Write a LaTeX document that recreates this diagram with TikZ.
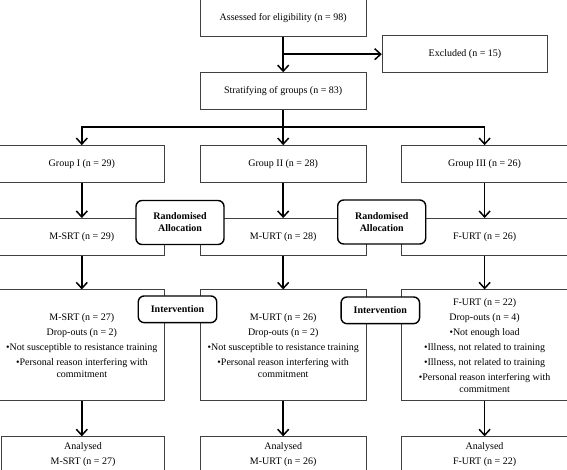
\documentclass[tikz,border=0pt]{standalone}
\usepackage{fontspec}
\setmainfont{Liberation Serif}
\usepackage{tikz}
\usetikzlibrary{positioning}
\usetikzlibrary{arrows.meta}

\begin{document}
\begin{tikzpicture}
[
x=1pt, y=-1pt,
font=\fontsize{10}{11.5}\selectfont,
box-a/.style={rectangle,draw=black!75,line width=0.9pt,minimum width=165.5pt,minimum height=37pt,align=center,inner sep=2pt},
box-b/.style={box-a,minimum height=111pt},
tag-a/.style={rectangle,rounded corners=6pt,draw,line width=1.4pt,fill=white,align=center,inner sep=2pt,font=\fontsize{10}{12}\selectfont\bfseries},
link-a/.style={->,line width=1.5pt,>={Straight Barb[length=6pt,width=11pt]}},
]
\useasboundingbox (0,0) rectangle (567,470);
\node (assess) [box-a] at (283.2,18.3)               {Assessed for eligibility (n = 98)};
\node (excl)   [box-a] at (465,54.2)                 {Excluded (n = 15)};
\node (strat)  [box-a, below = 35pt of assess]       {Stratifying of groups (n = 83)};
\node (grp2)   [box-a, below = 35pt of strat]        {Group II (n = 28)};
\node (grp1)   [box-a, left  = 35pt of grp2]         {Group I (n = 29)};
\node (grp3)   [box-a, right = 35pt of grp2]         {Group III (n = 26)};
\node (m2)     [box-a, below = 35pt of grp2]         {M-URT (n = 28)};
\node (m1)     [box-a, left  = 35pt of m2]           {M-SRT (n = 29)};
\node (m3)     [box-a, right = 35pt of m2]           {F-URT (n = 26)};
\node (out2)   [box-b, below = 33.5pt of m2]         {M-URT (n = 26)\\[3.5pt]Drop-outs (n = 2)\\[3.5pt]•Not susceptible to resistance training\\[3.5pt]•Personal reason interfering with\\commitment};
\node (out1)   [box-b, left  = 35pt of out2]         {M-SRT (n = 27)\\[3.5pt]Drop-outs (n = 2)\\[3.5pt]•Not susceptible to resistance training\\[3.5pt]•Personal reason interfering with\\commitment};
\node (out3)   [box-b, right = 35pt of out2]         {F-URT (n = 22)\\[3.5pt]Drop-outs (n = 4)\\[3.5pt]•Not enough load\\[3.5pt]•Illness, not related to training\\[3.5pt]•Illness, not related to training\\[3.5pt]•Personal reason interfering with\\commitment};
\node (ana2)   [box-a, below = 35pt of out2, minimum height=36pt] {Analysed\\[3pt]M-URT (n = 26)};
\node (ana1)   [box-a, left  = 35pt of ana2, minimum height=36pt, minimum width=163pt] {Analysed\\[3pt]M-SRT (n = 27)};
\node (ana3)   [box-a, right = 35pt of ana2, minimum height=36pt] {Analysed\\[3pt]F-URT (n = 22)};
\node (rand1)  [tag-a, minimum width=88pt, minimum height=44pt]   at (180,222.5) {Randomised\\Allocation};
\node (rand2)  [tag-a, minimum width=88pt, minimum height=44pt]   at (381.7,222) {Randomised\\Allocation};
\node (int1)   [tag-a, minimum width=78.5pt, minimum height=26.7pt] at (177.5,309.3) {Intervention};
\node (int2)   [tag-a, minimum width=78.5pt, minimum height=26.7pt] at (380.3,310.3) {Intervention};
\coordinate (split) at (assess.south |- excl.west);
\coordinate (fork)  at ([yshift=-17pt]strat.south);
\draw [link-a] (assess) -- (strat);
\draw [link-a] (split) -- (excl);
\draw [link-a] (strat) -- (grp2);
\draw [link-a] (fork) -| (grp1);
\draw [link-a] (fork) -| (grp3);
\draw [link-a] (grp1) -- (m1);
\draw [link-a] (grp2) -- (m2);
\draw [link-a] (grp3) -- (m3);
\draw [link-a] (m1) -- (out1);
\draw [link-a] (m2) -- (out2);
\draw [link-a] (m3) -- (out3);
\draw [link-a] (out1.south) -- (out1.south |- ana1.north);
\draw [link-a] (out2) -- (ana2);
\draw [link-a] (out3) -- (ana3);
\end{tikzpicture}
\end{document}
